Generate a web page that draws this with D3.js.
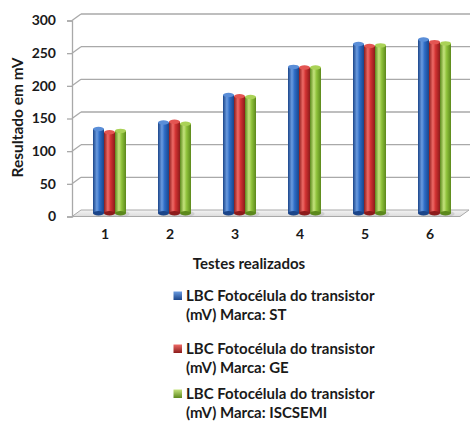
<!DOCTYPE html>
<html>
<head>
<meta charset="utf-8">
<script src="https://cdn.jsdelivr.net/npm/d3@7"></script>
<style>
  html, body { margin: 0; padding: 0; background: #ffffff; }
  svg { display: block; }
  text { font-family: Lato, "Open Sans", sans-serif; font-weight: 700; fill: #1a1a1a; }
</style>
</head>
<body>
<svg id="chart" width="470" height="423"></svg>
<script>
// Test numbers (categories) and the three photocell readings in mV
const categories = ["1", "2", "3", "4", "5", "6"];
const seriesNames = [
  ["LBC Fotocélula do transistor", "(mV) Marca: ST"],
  ["LBC Fotocélula do transistor", "(mV) Marca: GE"],
  ["LBC Fotocélula do transistor", "(mV) Marca: ISCSEMI"]
];
const valuesST = [129, 139, 181, 224, 259, 266];
const valuesGE = [124, 140, 179, 223, 256, 262];
const valuesISC = [126, 137, 178, 223, 257, 260];
const yTicks = [0, 50, 100, 150, 200, 250, 300];

const series = [valuesST, valuesGE, valuesISC];
const palette = [
  { dark: "#1b4589", mid: "#2d6cc6", light: "#6a9be0", cap: "#5a8ed8" },
  { dark: "#8c1b1b", mid: "#d03232", light: "#ee6a66", cap: "#e35552" },
  { dark: "#5c881c", mid: "#8fc23b", light: "#c4e27c", cap: "#aad257" }
];

const svg = d3.select("#chart");
const defs = svg.append("defs");

// 3D depth vector from the front plane to the back wall
const depthX = 9, depthY = -6.5;

// Front-plane scales
const y = d3.scaleLinear().domain([0, 300]).range([216.5, 20.5]);
const x = d3.scaleBand().domain(categories).range([72.5, 462.5]).paddingInner(0).paddingOuter(0);
const xSeries = d3.scaleBand().domain([0, 1, 2]).range([-16.5, 16.5]).padding(0);

const gridColor = "#a9a9a9";
const xLeft = 72, xRight = 460;

// Floor (parallelogram under the bars)
const floorGrad = defs.append("linearGradient").attr("id", "floorGrad")
  .attr("x1", 0).attr("y1", 0).attr("x2", 0).attr("y2", 1);
floorGrad.append("stop").attr("offset", "0%").attr("stop-color", "#f4f4f4");
floorGrad.append("stop").attr("offset", "100%").attr("stop-color", "#dcdcdc");

const floorPts = [
  [xLeft, y(0)], [xRight, y(0)],
  [xRight + depthX, y(0) + depthY], [xLeft + depthX, y(0) + depthY]
];
svg.append("polygon")
  .attr("points", floorPts.map(p => p.join(",")).join(" "))
  .attr("fill", "url(#floorGrad)")
  .attr("stroke", gridColor).attr("stroke-width", 1);

// Back wall gridlines with their diagonal side segments
const grid = svg.append("g");
yTicks.forEach(t => {
  if (t === 0) return;
  grid.append("line")
    .attr("x1", xLeft + depthX).attr("x2", 470)
    .attr("y1", y(t) + depthY).attr("y2", y(t) + depthY)
    .attr("stroke", gridColor).attr("stroke-width", 1.3);
  grid.append("line")
    .attr("x1", xLeft).attr("y1", y(t))
    .attr("x2", xLeft + depthX).attr("y2", y(t) + depthY)
    .attr("stroke", gridColor).attr("stroke-width", 1.3);
});

// Vertical value axis
const yAxis = d3.axisLeft(y).tickValues(yTicks).tickSize(5).tickPadding(11);
const yAxisG = svg.append("g").attr("transform", `translate(${xLeft},0)`).call(yAxis);
yAxisG.select(".domain").attr("stroke", gridColor).attr("stroke-width", 1.3);
yAxisG.selectAll(".tick line").attr("stroke", gridColor).attr("stroke-width", 1.3);
yAxisG.selectAll(".tick text")
  .style("font-family", "Lato, sans-serif").style("font-weight", 700)
  .style("font-size", "14px").attr("fill", "#1a1a1a");

// Category labels along the floor
const xAxis = d3.axisBottom(x).tickSize(0).tickPadding(0);
const xAxisG = svg.append("g").attr("transform", `translate(0,${y(0) + 13})`).call(xAxis);
xAxisG.select(".domain").remove();
xAxisG.selectAll(".tick text")
  .style("font-family", "Lato, sans-serif").style("font-weight", 700)
  .style("font-size", "14px").attr("fill", "#1a1a1a");

// Cylinder gradients per series
palette.forEach((c, i) => {
  const g = defs.append("linearGradient").attr("id", "cyl" + i)
    .attr("x1", 0).attr("y1", 0).attr("x2", 1).attr("y2", 0);
  g.append("stop").attr("offset", "0%").attr("stop-color", c.dark);
  g.append("stop").attr("offset", "35%").attr("stop-color", c.light);
  g.append("stop").attr("offset", "60%").attr("stop-color", c.mid);
  g.append("stop").attr("offset", "100%").attr("stop-color", c.dark);
});

// Bars drawn as cylinders standing midway into the depth
const midX = depthX / 2, midY = depthY / 2;
const bw = xSeries.bandwidth();
const ry = 2.2;

const bars = svg.append("g");
categories.forEach((cat, ci) => {
  series.forEach((vals, si) => {
    const v = vals[ci];
    const cx = x(cat) + x.bandwidth() / 2 + midX + xSeries(si) + bw / 2;
    const top = y(v) + midY;
    const base = y(0) + midY;
    // soft shadow on the floor
    bars.append("ellipse")
      .attr("cx", cx + 2).attr("cy", base + 0.5)
      .attr("rx", bw / 2 + 1.5).attr("ry", ry + 0.8)
      .attr("fill", "#9a9a9a").attr("opacity", 0.3);
    bars.append("rect")
      .attr("x", cx - bw / 2).attr("y", top)
      .attr("width", bw).attr("height", base - top)
      .attr("fill", `url(#cyl${si})`);
    bars.append("ellipse")
      .attr("cx", cx).attr("cy", base)
      .attr("rx", bw / 2).attr("ry", ry)
      .attr("fill", palette[si].dark);
    bars.append("ellipse")
      .attr("cx", cx).attr("cy", top)
      .attr("rx", bw / 2).attr("ry", ry)
      .attr("fill", palette[si].cap);
  });
});

// Axis titles
svg.append("text")
  .attr("transform", `translate(23,${117.5}) rotate(-90)`)
  .attr("text-anchor", "middle")
  .style("font-size", "15.5px")
  .text("Resultado em mV");

svg.append("text")
  .attr("x", 249).attr("y", 268.5)
  .attr("text-anchor", "middle")
  .style("font-size", "15px")
  .text("Testes realizados");

// Legend
const legendRows = [296, 349, 394];
const legend = svg.append("g");
seriesNames.forEach((lines, i) => {
  const yc = legendRows[i];
  const mg = defs.append("linearGradient").attr("id", "leg" + i)
    .attr("x1", 0).attr("y1", 0).attr("x2", 0).attr("y2", 1);
  mg.append("stop").attr("offset", "0%").attr("stop-color", palette[i].light);
  mg.append("stop").attr("offset", "100%").attr("stop-color", palette[i].dark);
  legend.append("rect")
    .attr("x", 173.5).attr("y", yc - 4.5).attr("width", 8.5).attr("height", 8.5)
    .attr("fill", `url(#leg${i})`);
  lines.forEach((line, li) => {
    legend.append("text")
      .attr("x", 186).attr("y", yc + li * 19)
      .attr("dy", "0.36em")
      .style("font-size", "15px")
      .text(line);
  });
});
</script>
</body>
</html>
